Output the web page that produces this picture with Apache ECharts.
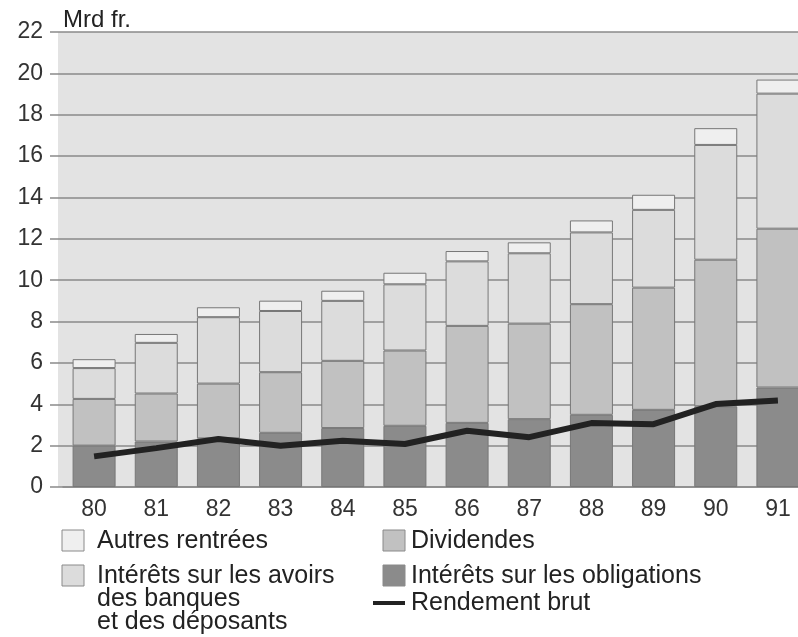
<!DOCTYPE html>
<html>
<head>
<meta charset="utf-8">
<script src="https://cdn.jsdelivr.net/npm/echarts@6/dist/echarts.min.js"></script>
<style>
  html, body { margin: 0; padding: 0; background: #fff; overflow: hidden; }
  /* a bit wider than the window: the last bar is cut by the picture edge */
  #chart { width: 809px; height: 637px; }
</style>
</head>
<body>
<div id="chart"></div>
<script>
// years on the x axis
const years = ['80', '81', '82', '83', '84', '85', '86', '87', '88', '89', '90', '91'];

// stacked segments, Mrd fr. (bottom to top)
const obligations = [2.0, 2.2, 2.35, 2.62, 2.85, 2.96, 3.1, 3.28, 3.49, 3.73, 3.9, 4.81];
const dividendes = [2.26, 2.32, 2.65, 2.93, 3.25, 3.64, 4.69, 4.62, 5.35, 5.91, 7.09, 7.68];
const avoirs = [1.49, 2.45, 3.21, 2.96, 2.9, 3.2, 3.12, 3.4, 3.47, 3.76, 5.55, 6.53];
const autres = [0.43, 0.43, 0.48, 0.5, 0.49, 0.56, 0.5, 0.53, 0.58, 0.73, 0.81, 0.68];

// line
const rendement = [1.48, 1.88, 2.32, 1.99, 2.24, 2.08, 2.72, 2.41, 3.09, 3.04, 4.01, 4.18];

const FONT = 'Liberation Sans, Arial, sans-serif';
const colors = {
  autres: '#efefef',
  avoirs: '#dcdcdc',
  dividendes: '#c1c1c1',
  obligations: '#8b8b8b',
  line: '#222'
};

const chart = echarts.init(document.getElementById('chart'));

const barSeries = (name, data, color) => ({
  name,
  type: 'bar',
  stack: 'total',
  data,
  barWidth: 43,
  itemStyle: { color, borderColor: '#777', borderWidth: 1 }
});

// legend drawn by hand: two columns, one entry wraps over three lines
const legendSwatch = (x, y, fill) => ({
  type: 'rect',
  shape: { x, y, width: 22, height: 21 },
  style: { fill, stroke: '#8a8a8a', lineWidth: 1 }
});
const legendText = (x, y, text) => ({
  type: 'text',
  x, y,
  style: { text, font: '25px ' + FONT, fill: '#222', textVerticalAlign: 'middle' }
});

chart.setOption({
  animation: false,
  backgroundColor: '#fff',
  title: {
    text: 'Mrd fr.',
    left: 58,
    top: 3,
    textStyle: { fontFamily: FONT, fontSize: 24, fontWeight: 'normal', color: '#222' }
  },
  grid: {
    left: 63,
    right: 0,
    top: 32,
    bottom: 150,
    show: true,
    backgroundColor: '#e3e3e3',
    borderWidth: 0
  },
  xAxis: {
    type: 'category',
    data: years,
    axisLine: { lineStyle: { color: '#8a8a8a', width: 1.5 } },
    axisTick: { alignWithLabel: true, length: 9, lineStyle: { color: '#8a8a8a', width: 1.5 } },
    axisLabel: { fontFamily: FONT, fontSize: 23, color: '#333', margin: 11 }
  },
  yAxis: {
    type: 'value',
    min: 0,
    max: 22,
    interval: 2,
    axisLine: { show: false },
    axisTick: { show: true, length: 13, lineStyle: { color: '#8a8a8a', width: 1.5 } },
    axisLabel: { fontFamily: FONT, fontSize: 23, color: '#333', margin: 20 },
    splitLine: { lineStyle: { color: '#8a8a8a', width: 1.5 } }
  },
  series: [
    barSeries('Intérêts sur les obligations', obligations, colors.obligations),
    barSeries('Dividendes', dividendes, colors.dividendes),
    barSeries('Intérêts sur les avoirs des banques et des déposants', avoirs, colors.avoirs),
    barSeries('Autres rentrées', autres, colors.autres),
    {
      name: 'Rendement brut',
      type: 'line',
      data: rendement,
      symbol: 'none',
      z: 5,
      lineStyle: { color: colors.line, width: 6 }
    }
  ],
  graphic: [
    {
      type: 'rect',
      z: -1,
      shape: { x: 58, y: 32, width: 6, height: 455 },
      style: { fill: '#e3e3e3' }
    },
    legendSwatch(62, 530, colors.autres),
    legendText(97, 541, 'Autres rentrées'),
    legendSwatch(62, 565, colors.avoirs),
    legendText(97, 576, 'Intérêts sur les avoirs'),
    legendText(97, 599, 'des banques'),
    legendText(97, 622, 'et des déposants'),
    legendSwatch(383, 530, colors.dividendes),
    legendText(411, 541, 'Dividendes'),
    legendSwatch(383, 565, colors.obligations),
    legendText(411, 576, 'Intérêts sur les obligations'),
    {
      type: 'line',
      shape: { x1: 373, y1: 603, x2: 405, y2: 603 },
      style: { stroke: colors.line, lineWidth: 4 }
    },
    legendText(411, 603, 'Rendement brut')
  ]
});
</script>
</body>
</html>
